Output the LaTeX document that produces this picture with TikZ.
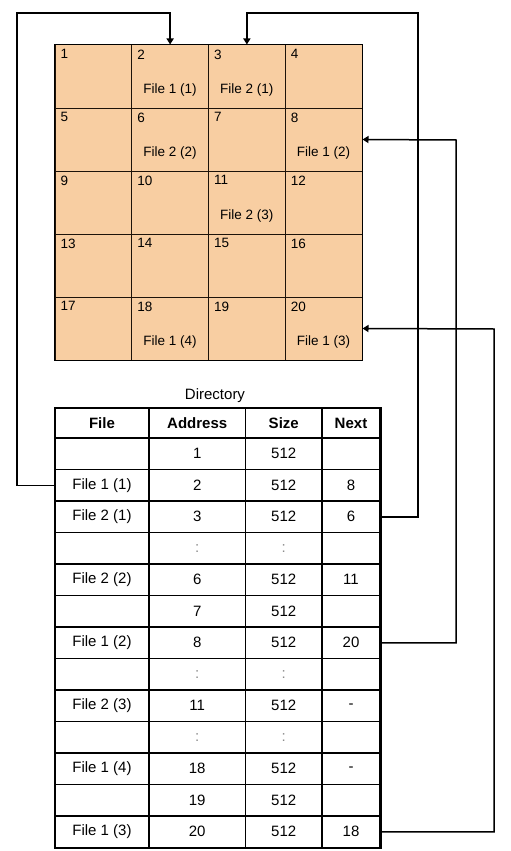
\documentclass[tikz,border=0pt]{standalone}
\usepackage{fontspec}
\setmainfont{Liberation Sans}
\usetikzlibrary{arrows.meta,calc}
\definecolor{peach}{RGB}{248,206,162}
\tikzset{
  cell/.style={draw=black!85!brown, line width=1pt, fill=peach, minimum width=76.75pt, minimum height=63pt, inner sep=0pt},
  cellnum/.style={anchor=north west, inner sep=0pt, font=\fontsize{13.5}{14}\selectfont},
  celltxt/.style={inner sep=0pt, font=\fontsize{13.5}{14}\selectfont},
  tcell/.style={draw, line width=1.3pt, minimum height=31.5pt, inner sep=0pt, font=\fontsize{15}{16}\selectfont},
  thead/.style={draw, line width=1.3pt, minimum height=30pt, inner sep=0pt, font=\bfseries\fontsize{15}{16}\selectfont},
  conn/.style={draw, line width=1.5pt},
  arr/.style={-{Triangle[width=7pt,length=6pt]}},
  dots/.style={text=black!45}
}
\begin{document}
\begin{tikzpicture}[x=1pt,y=-1pt]
\useasboundingbox (0,0) rectangle (511,851);
% ---- disk blocks grid
\foreach \k in {1,...,20}{
  \pgfmathtruncatemacro{\col}{mod(\k-1,4)}
  \pgfmathtruncatemacro{\row}{div(\k-1,4)}
  \node[cell] (c\k) at ({55+76.75*(\col+0.5)},{45+63*(\row+0.5)}) {};
  \node[cellnum] (l\k) at ([xshift=6pt,yshift=-5pt]c\k.north west) {\k};
}
\draw[line width=1.7pt] (c1.north west) rectangle (c20.south east);
\node[celltxt] (x2)  at ([yshift=-14pt]c2.center)  {File 1 (1)};
\node[celltxt] (x3)  at ([yshift=-14pt]c3.center)  {File 2 (1)};
\node[celltxt] (x6)  at ([yshift=-14pt]c6.center)  {File 2 (2)};
\node[celltxt] (x8)  at ([yshift=-14pt]c8.center)  {File 1 (2)};
\node[celltxt] (x11) at ([yshift=-14pt]c11.center) {File 2 (3)};
\node[celltxt] (x18) at ([yshift=-14pt]c18.center) {File 1 (4)};
\node[celltxt] (x20) at ([yshift=-14pt]c20.center) {File 1 (3)};
% ---- directory table
\node[font=\fontsize{15}{16}\selectfont] (title) at (215,396) {Directory};
\node[thead, minimum width=94pt]   (hf) at (102,423)    {File};
\node[thead, minimum width=96.5pt] (ha) at (197.25,423) {Address};
\node[thead, minimum width=76.5pt] (hs) at (283.75,423) {Size};
\node[thead, minimum width=58pt]   (hn) at (351,423)    {Next};
\foreach \i/\f/\a/\s/\n/\d in {
  1//1/512//0,
  2/File 1 (1)/2/512/8/0,
  3/File 2 (1)/3/512/6/0,
  4//:/://1,
  5/File 2 (2)/6/512/11/0,
  6//7/512//0,
  7/File 1 (2)/8/512/20/0,
  8//:/://1,
  9/File 2 (3)/11/512/-/0,
  10//:/://1,
  11/File 1 (4)/18/512/-/0,
  12//19/512//0,
  13/File 1 (3)/20/512/18/0}{
  \pgfmathsetmacro{\yy}{438+31.5*(\i-0.5)}
  \ifnum\d=1
    \node[tcell, minimum width=94pt]   (f\i) at (102,\yy)    {};
    \node[tcell, minimum width=96.5pt, dots] (a\i) at (197.25,\yy) {:};
    \node[tcell, minimum width=76.5pt, dots] (s\i) at (283.75,\yy) {:};
    \node[tcell, minimum width=58pt]   (n\i) at (351,\yy)    {};
  \else
    \node[tcell, minimum width=94pt]   (f\i) at (102,\yy)    {\f};
    \node[tcell, minimum width=96.5pt] (a\i) at (197.25,\yy) {\a};
    \node[tcell, minimum width=76.5pt] (s\i) at (283.75,\yy) {\s};
    \node[tcell, minimum width=58pt]   (n\i) at (351,\yy)    {\n};
  \fi
}
\draw[line width=1.7pt] (hf.north west) rectangle (n13.south east);
% ---- connectors
\coordinate (tl) at (17,13);
\coordinate (tr) at (418,13);
\coordinate (r1) at (456,140);
\coordinate (r2) at (494,329);
\draw[conn,arr] (f2.west) -| (tl) -| (c2.north);
\draw[conn,arr] (n3.east) -| (tr) -| (c3.north);
\draw[conn,arr] (n7.east) -| (r1) -- (c8.east);
\draw[conn,arr] (n13.east) -| (r2) -- (c20.east);
\end{tikzpicture}
\end{document}
